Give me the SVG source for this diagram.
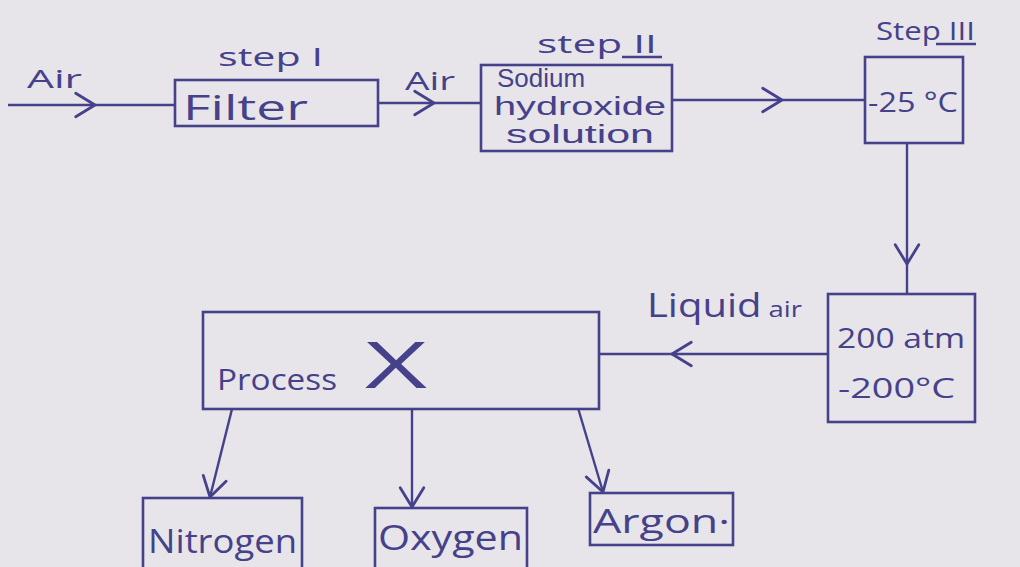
<svg xmlns="http://www.w3.org/2000/svg" width="1020" height="567" viewBox="0 0 1020 567">
<style>
.box{fill:none;stroke:#45418a;stroke-width:2.6}
.ln{fill:none;stroke:#45418a;stroke-width:2.4}
.t{font-family:"Open Sans","Liberation Sans",sans-serif;fill:#45418a}
.s{font-family:"Liberation Sans","Open Sans",sans-serif;fill:#45418a;font-size:25px}
</style>
<defs>
<marker id="chev" markerUnits="userSpaceOnUse" markerWidth="30" markerHeight="30" viewBox="-22 -14 26 28" refX="0" refY="0" orient="auto">
<path d="M-18,-11 L0,0 L-18,11" fill="none" stroke="#45418a" stroke-width="2.6" stroke-linecap="round" stroke-linejoin="round"/>
</marker>
</defs>
<rect width="1020" height="567" fill="#e7e5e9"/>
<g id="connectors">
<polyline class="ln" points="8,105 95,105 175,105" marker-mid="url(#chev)"/>
<polyline class="ln" points="378,103 434,103 481,103" marker-mid="url(#chev)"/>
<polyline class="ln" points="672,100 782,100 865,100" marker-mid="url(#chev)"/>
<polyline class="ln" points="907,143 907,264 907,294" marker-mid="url(#chev)"/>
<polyline class="ln" points="828,354 672,354 598,354" marker-mid="url(#chev)"/>
<line class="ln" x1="232" y1="409" x2="210" y2="497" marker-end="url(#chev)"/>
<line class="ln" x1="412" y1="409" x2="412" y2="507" marker-end="url(#chev)"/>
<line class="ln" x1="578" y1="408" x2="603" y2="492" marker-end="url(#chev)"/>
<text class="t" x="27" y="88" font-size="26" textLength="55" lengthAdjust="spacingAndGlyphs">Air</text>
<text class="t" x="405" y="90" font-size="26" textLength="50" lengthAdjust="spacingAndGlyphs">Air</text>
<text class="t" x="647" y="317" textLength="155" lengthAdjust="spacingAndGlyphs"><tspan font-size="32">Liquid</tspan><tspan font-size="22"> air</tspan></text>
</g>
<g id="filter">
<text class="t" x="218" y="66" font-size="26" textLength="105" lengthAdjust="spacingAndGlyphs">step I</text>
<rect class="box" x="175" y="80" width="203" height="46"/>
<text class="t" x="183" y="120" font-size="34" textLength="125" lengthAdjust="spacingAndGlyphs">Filter</text>
</g>
<g id="naoh">
<text class="t" x="537" y="53" font-size="26" textLength="120" lengthAdjust="spacingAndGlyphs">step II</text>
<line class="ln" x1="622" y1="57" x2="662" y2="57"/>
<rect class="box" x="481" y="65" width="191" height="86"/>
<text class="s" x="497" y="87" textLength="88" lengthAdjust="spacingAndGlyphs">Sodium</text>
<text class="s" x="494" y="115" textLength="172" lengthAdjust="spacingAndGlyphs">hydroxide</text>
<text class="s" x="506" y="143" textLength="148" lengthAdjust="spacingAndGlyphs">solution</text>
</g>
<g id="step3">
<text class="t" x="876" y="40" font-size="26" textLength="99" lengthAdjust="spacingAndGlyphs">Step III</text>
<line class="ln" x1="936" y1="44" x2="976" y2="44"/>
<rect class="box" x="865" y="57" width="98" height="86"/>
<text class="t" x="868" y="112" font-size="28" textLength="90" lengthAdjust="spacingAndGlyphs">-25 °C</text>
</g>
<g id="compress">
<rect class="box" x="828" y="294" width="147" height="128"/>
<text class="t" x="837" y="348" font-size="28" textLength="128" lengthAdjust="spacingAndGlyphs">200 atm</text>
<text class="t" x="838" y="398" font-size="28" textLength="117" lengthAdjust="spacingAndGlyphs">-200°C</text>
</g>
<g id="process">
<rect class="box" x="203" y="312" width="396" height="97"/>
<text class="t" x="217" y="390" font-size="30" textLength="120" lengthAdjust="spacingAndGlyphs">Process</text>
<text class="t" x="365" y="388" font-size="64" textLength="62" lengthAdjust="spacingAndGlyphs">X</text>
</g>
<g id="nitrogen">
<rect class="box" x="143" y="498" width="159" height="80"/>
<text class="t" x="148" y="553" font-size="32" textLength="149" lengthAdjust="spacingAndGlyphs">Nitrogen</text>
</g>
<g id="oxygen">
<rect class="box" x="375" y="508" width="152" height="70"/>
<text class="t" x="378" y="550" font-size="34" textLength="145" lengthAdjust="spacingAndGlyphs">Oxygen</text>
</g>
<g id="argon">
<rect class="box" x="590" y="493" width="143" height="52"/>
<text class="t" x="593" y="533" font-size="32" textLength="137" lengthAdjust="spacingAndGlyphs">Argon·</text>
</g>
</svg>
